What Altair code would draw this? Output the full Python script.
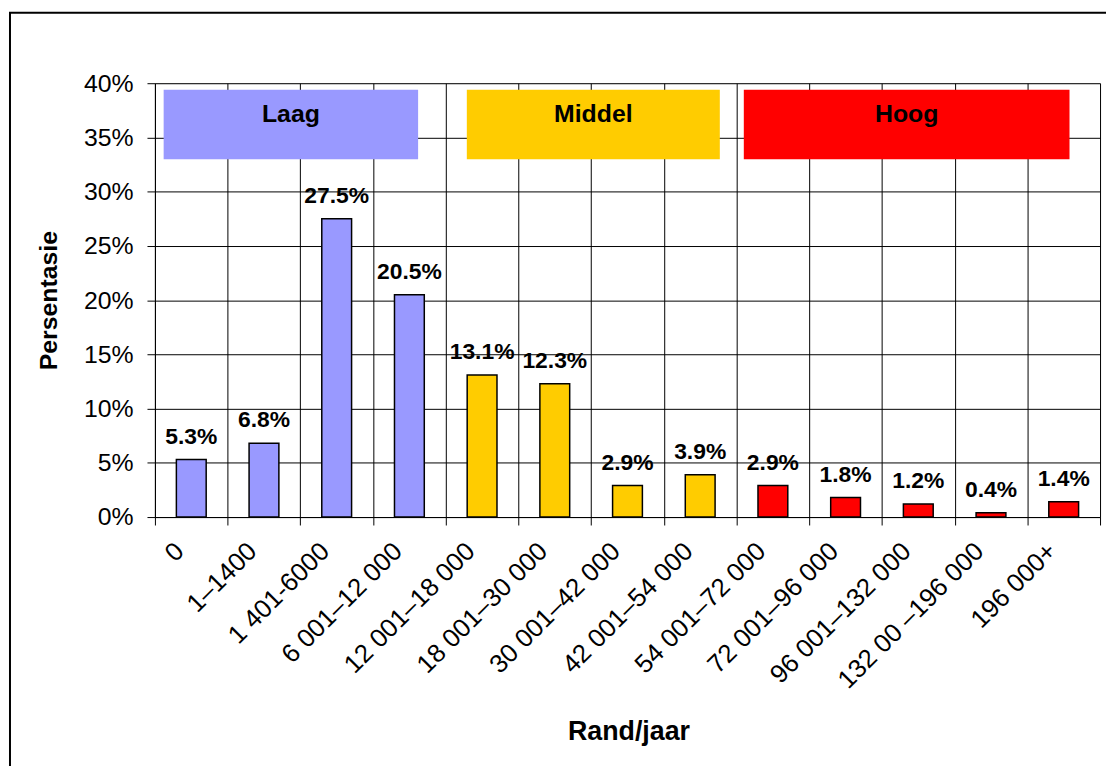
import altair as alt
import pandas as pd

categories = ["0", "1–1400", "1 401-6000", "6 001–12 000", "12 001–18 000",
              "18 001–30 000", "30 001–42 000", "42 001–54 000", "54 001–72 000",
              "72 001–96 000", "96 001–132 000", "132 00 –196 000", "196 000+"]
values = [5.3, 6.8, 27.5, 20.5, 13.1, 12.3, 2.9, 3.9, 2.9, 1.8, 1.2, 0.4, 1.4]
groups = ["Laag"] * 4 + ["Middel"] * 4 + ["Hoog"] * 5

group_names = ["Laag", "Middel", "Hoog"]
group_colors = ["#9999FF", "#FFCC00", "#FF0000"]
# legend boxes in category-index units (start, end) and percent units (bottom, top)
box_start = [0.12, 4.29, 8.10]
box_end = [3.62, 7.77, 12.58]
box_bottom = 33.0
box_top = 39.4
text_level = 37.2

FONT = "Liberation Sans"

df = pd.DataFrame({"cat": categories, "val": values, "grp": groups})
df["lbl"] = [f"{v:.1f}%" for v in values]

boxes = pd.DataFrame({
    "grp": group_names,
    "x0": box_start,
    "x1": box_end,
    "xm": [(a + b) / 2 for a, b in zip(box_start, box_end)],
    "y0": [box_bottom] * 3,
    "y1": [box_top] * 3,
    "ym": [text_level] * 3,
})

color_scale = alt.Scale(domain=group_names, range=group_colors)
xband = alt.Scale(paddingInner=0, paddingOuter=0)
yscale = alt.Scale(domain=[0, 40], nice=False)
xq = alt.Scale(domain=[0, 13], nice=False, zero=False)

bars = alt.Chart(df).mark_bar(stroke="black", strokeWidth=1.5,
                              width=alt.RelativeBandSize(0.41)).encode(
    x=alt.X("cat:N", sort=categories, scale=xband,
            axis=alt.Axis(title="Rand/jaar", labelAngle=-45, labelAlign="right",
                          labelBaseline="middle", labelFontSize=26, labelFont=FONT,
                          labelColor="black", labelPadding=22, labelOffset=-12,
                          labelLimit=400,
                          tickBand="extent", tickSize=8, tickColor="black",
                          domainColor="black", grid=True, gridColor="black",
                          gridWidth=1, gridOpacity=1,
                          titleFontSize=27, titleFont=FONT, titleFontWeight="bold",
                          titleColor="black", titleX=477, titleY=216,
                          titleBaseline="middle", titleAlign="center")),
    y=alt.Y("val:Q", scale=yscale,
            axis=alt.Axis(title="Persentasie", values=list(range(0, 45, 5)),
                          labelExpr="datum.value + '%'", labelFontSize=25,
                          labelFont=FONT, labelColor="black", labelPadding=14,
                          tickSize=8, tickColor="black", domainColor="black",
                          grid=True, gridColor="black", gridWidth=1, gridOpacity=1,
                          titleFontSize=25, titleFont=FONT, titleFontWeight="bold",
                          titleColor="black", titleX=-107, titleY=218.5,
                          titleBaseline="middle", titleAlign="center", titleAngle=-90)),
    color=alt.Color("grp:N", scale=color_scale, legend=None),
)

labels = alt.Chart(df).mark_text(fontSize=23, fontWeight="bold", font=FONT,
                                 baseline="middle", dy=-23, color="black").encode(
    x=alt.X("cat:N", sort=categories, scale=xband, axis=None),
    y=alt.Y("val:Q", scale=yscale),
    text="lbl:N",
)

legend_rects = alt.Chart(boxes).mark_rect().encode(
    x=alt.X("x0:Q", scale=xq, axis=None),
    x2="x1:Q",
    y=alt.Y("y0:Q", scale=yscale),
    y2="y1:Q",
    color=alt.Color("grp:N", scale=color_scale, legend=None),
)

legend_text = alt.Chart(boxes).mark_text(fontSize=25, fontWeight="bold", font=FONT,
                                         baseline="middle", color="black").encode(
    x=alt.X("xm:Q", scale=xq, axis=None),
    y=alt.Y("ym:Q", scale=yscale),
    text="grp:N",
)

frame = alt.Chart(pd.DataFrame({"k": [0]})).mark_rect(
    fill=None, stroke="black", strokeWidth=2, clip=False).encode(
    x=alt.value(-146), x2=alt.value(1100), y=alt.value(-71), y2=alt.value(800),
)

chart = alt.layer(bars, labels, legend_rects, legend_text, frame).resolve_scale(
    x="independent"
).properties(
    width=952, height=437,
    autosize=alt.AutoSizeParams(type="none"),
    padding={"left": 148, "top": 73, "right": 6, "bottom": 248},
    background="white",
).configure_view(
    fill="#C0C0C0", stroke="#808080", strokeWidth=2
).configure(font=FONT)

chart.save("out.html", embed_options={"renderer": "svg", "actions": False})
